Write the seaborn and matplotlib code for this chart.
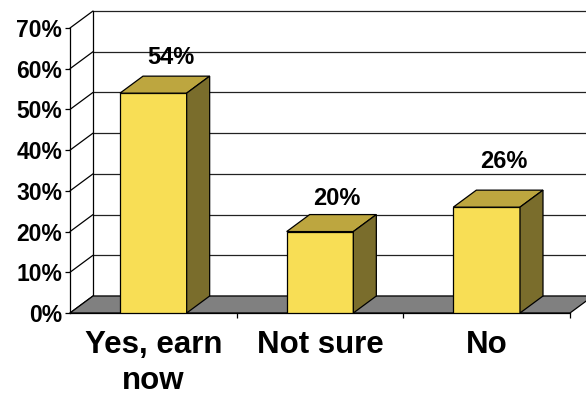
import matplotlib
matplotlib.use("Agg")
import matplotlib.pyplot as plt
from matplotlib.patches import Polygon
import pandas as pd
import seaborn as sns

# Survey answers and their shares (percent)
categories = ["Yes, earn\nnow", "Not sure", "No"]
shares = [54, 20, 26]
y_ticks = [0, 10, 20, 30, 40, 50, 60, 70]
y_tick_labels = ["0%", "10%", "20%", "30%", "40%", "50%", "60%", "70%"]

# Colours of the 3-D boxes
FRONT = "#F8DE55"
TOP = "#BDA63F"
SIDE = "#7A6D2C"
FLOOR = "#808080"

# Lift of each value label above its box (points)
label_lift = [8.9, 7.2, 15.6]

sns.set_style("white")
plt.rcParams["font.family"] = ["Liberation Sans", "DejaVu Sans"]
plt.rcParams["font.weight"] = "bold"
plt.rcParams["text.color"] = "black"
plt.rcParams["xtick.color"] = "black"
plt.rcParams["ytick.color"] = "black"
plt.rcParams["xtick.labelcolor"] = "black"
plt.rcParams["ytick.labelcolor"] = "black"

W, H = 586, 397
fig = plt.figure(figsize=(W / 100, H / 100), dpi=100)
left_px, right_px, top_px, bottom_px = 70, 570, 28, 313
ax = fig.add_axes([left_px / W, (H - bottom_px) / H,
                   (right_px - left_px) / W, (bottom_px - top_px) / H])

ymax = y_ticks[-1]
ax.set_xlim(-0.5, len(categories) - 0.5)
ax.set_ylim(0, ymax)

# Depth offset of the back plane, in data units
DX = 23 / ((right_px - left_px) / len(categories))
DY = 17 / ((bottom_px - top_px) / ymax)

x0, x1 = -0.5, len(categories) - 0.5
lw = 0.9

# Back wall gridlines and side-wall diagonals
for v in y_ticks:
    ax.plot([x0 + DX, x1 + DX + 0.2], [v + DY, v + DY], color="#222222",
            lw=lw, zorder=1, clip_on=False)
    ax.plot([x0, x0 + DX], [v, v + DY], color="black", lw=lw,
            zorder=1, clip_on=False)
ax.plot([x0 + DX, x0 + DX], [DY, ymax + DY], color="black", lw=lw,
        zorder=1, clip_on=False)

# Floor
ax.add_patch(Polygon([(x0, 0), (x1, 0), (x1 + DX, DY), (x0 + DX, DY)],
                     closed=True, facecolor=FLOOR, edgecolor="black",
                     lw=lw, zorder=2, clip_on=False))

df = pd.DataFrame({"answer": categories, "share": shares})
sns.barplot(data=df, x="answer", y="share", color=FRONT, saturation=1,
            width=0.4, edgecolor="black", linewidth=lw, ax=ax, zorder=4)

# Top and side faces of each box
bars = [p for p in ax.patches if p.get_zorder() == 4]
for bar in bars:
    bx, bw, bh = bar.get_x(), bar.get_width(), bar.get_height()
    top = Polygon([(bx, bh), (bx + bw, bh), (bx + bw + DX, bh + DY),
                   (bx + DX, bh + DY)], closed=True, facecolor=TOP,
                  edgecolor="black", lw=lw, zorder=4, clip_on=False)
    side = Polygon([(bx + bw, 0), (bx + bw + DX, DY), (bx + bw + DX, bh + DY),
                    (bx + bw, bh)], closed=True, facecolor=SIDE,
                   edgecolor="black", lw=lw, zorder=4, clip_on=False)
    ax.add_patch(top)
    ax.add_patch(side)

# Value labels
for i, (v, lift) in enumerate(zip(shares, label_lift)):
    ax.annotate(f"{v}%", xy=(i + DX * 0.75, v + DY), xytext=(0, lift),
                textcoords="offset points", ha="center", va="baseline",
                fontsize=17, fontweight="bold", color="black", zorder=5,
                annotation_clip=False)

# Axes styling
for name in ["top", "right"]:
    ax.spines[name].set_visible(False)
for name in ["left", "bottom"]:
    ax.spines[name].set_linewidth(lw)
    ax.spines[name].set_color("black")
ax.spines["left"].set_zorder(3)

ax.set_yticks(y_ticks)
ax.set_yticklabels(y_tick_labels, fontsize=16.5, fontweight="bold")
ax.tick_params(axis="y", direction="out", length=3.6, width=lw, pad=2,
               left=True)

ax.set_xticks(range(len(categories)))
ax.set_xticklabels(categories, fontsize=22.5, fontweight="bold",
                   linespacing=1.28)
ax.tick_params(axis="x", which="major", length=0, pad=12)
ax.set_xticks([x0 + 1, x0 + 2, x1], minor=True)
ax.tick_params(axis="x", which="minor", direction="out", length=3.6,
               width=lw, bottom=True)
ax.set_xlabel("")
ax.set_ylabel("")
ax.grid(False)
ax.set_facecolor("none")

fig.savefig("out.png", dpi=100)
